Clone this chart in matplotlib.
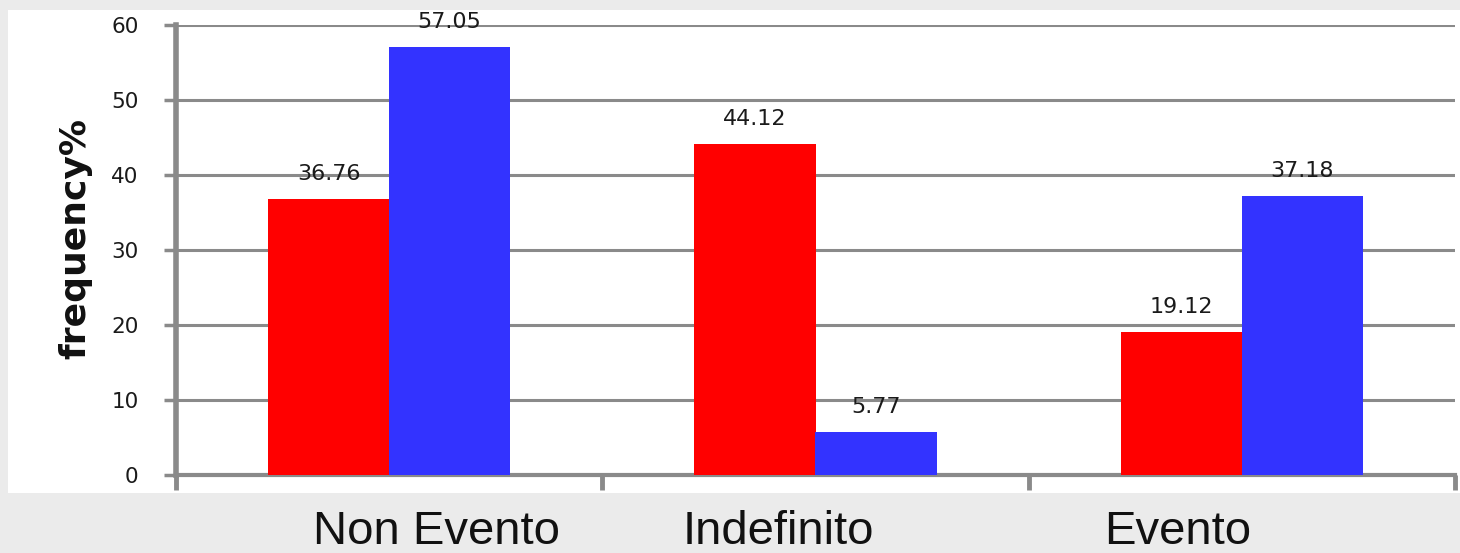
import matplotlib
matplotlib.use("Agg")
import matplotlib.pyplot as plt
from matplotlib.patches import Rectangle
import matplotlib.transforms as mtransforms

categories = ["Non Evento", "Indefinito", "Evento"]
series_red = [36.76, 44.12, 19.12]
series_blue = [57.05, 5.77, 37.18]
yticks = [0, 10, 20, 30, 40, 50, 60]
ylabel = "frequency%"

# style
RED = "#ff0000"
BLUE = "#3333ff"
GRID = "#8a8a8a"
BG = "#ebebeb"
label_shift = [0.111, -0.088, -0.150]  # horizontal shift of category labels (data units)

fig = plt.figure(figsize=(14.6, 5.53), dpi=100, facecolor=BG)
W, H = 1460, 553
fig.patches.append(Rectangle((8 / W, 1 - 493 / H), (W - 8) / W, (493 - 10) / H,
                             transform=fig.transFigure, facecolor="white",
                             edgecolor="none", zorder=-5))

ax = fig.add_axes([176 / W, 1 - 475 / H, (1455 - 176) / W, (475 - 25) / H])
ax.set_facecolor("white")
ax.set_zorder(2)

x = list(range(len(categories)))
bw = 0.285
off = 0.142
ax.bar([i - off for i in x], series_red, width=bw, color=RED, zorder=3)
ax.bar([i + off for i in x], series_blue, width=bw, color=BLUE, zorder=3)

for i, (r, b) in enumerate(zip(series_red, series_blue)):
    for xx, v in ((i - off, r), (i + off, b)):
        ax.annotate(f"{v:.2f}", (xx, v), xytext=(0, 18), textcoords="offset points",
                    ha="center", va="center", fontsize=16, color="#1a1a1a",
                    family="DejaVu Sans", annotation_clip=False, zorder=5)

ax.set_xlim(-0.5, 2.5)
ax.set_ylim(0, 60)
ax.set_yticks(yticks)
ax.set_yticklabels([str(t) for t in yticks], fontsize=15.5, color="#1a1a1a",
                   family="DejaVu Sans")
ax.yaxis.grid(True, color=GRID, linewidth=2.2, zorder=1)
ax.set_axisbelow(True)

ax.set_xticks([-0.5, 0.5, 1.5, 2.5])
ax.set_xticklabels([])
ax.tick_params(axis="x", direction="out", length=11, width=3.5, color=GRID)
ax.tick_params(axis="y", direction="out", length=9, width=2.5, color=GRID, pad=18)

for s in ("top", "right"):
    ax.spines[s].set_visible(False)
ax.spines["left"].set_color(GRID)
ax.spines["left"].set_linewidth(4)
ax.spines["bottom"].set_color(GRID)
ax.spines["bottom"].set_linewidth(3)

trans = mtransforms.blended_transform_factory(ax.transData, fig.transFigure)
for i, name in enumerate(categories):
    ax.text(i + label_shift[i], 1 - 532 / H, name, transform=trans, ha="center",
            va="center", fontsize=34, family="Liberation Sans", color="#111111",
            clip_on=False)

fig.text(75 / W, 1 - 238 / H, ylabel, rotation=90, ha="center", va="center",
         fontsize=26, fontweight="bold", family="DejaVu Sans", color="#111111")

fig.savefig("out.png", dpi=100, facecolor=BG)
